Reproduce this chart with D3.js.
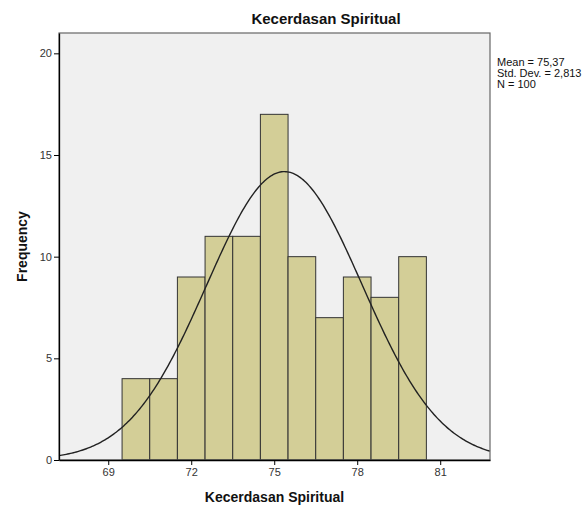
<!DOCTYPE html>
<html>
<head>
<meta charset="utf-8">
<script src="https://cdn.jsdelivr.net/npm/d3@7"></script>
<style>
  body { margin: 0; background: #fff; }
  text { font-family: Arial, "Liberation Sans", sans-serif; }
</style>
</head>
<body>
<div id="chart"></div>
<script>
// histogram bins (lower edge .. upper edge) and counts
var binStart = [69.5, 70.5, 71.5, 72.5, 73.5, 74.5, 75.5, 76.5, 77.5, 78.5, 79.5];
var binCount = [4, 4, 9, 11, 11, 17, 10, 7, 9, 8, 10];
var binWidth = 1;

var xTicks = [69, 72, 75, 78, 81];
var yTicks = [0, 5, 10, 15, 20];

var mean = 75.37;
var sd = 2.813;
var n = 100;
var statLines = ["Mean = 75,37", "Std. Dev. = 2,813", "N = 100"];

var w = 586, h = 507;
var plotLeft = 59, plotRight = 490, plotTop = 33, plotBottom = 460;

var svg = d3.select("#chart")
    .append("svg")
    .attr("width", w)
    .attr("height", h);

var x = d3.scaleLinear()
    .domain([67.22, 82.8])
    .range([plotLeft, plotRight]);

var y = d3.scaleLinear()
    .domain([0, 21])
    .range([plotBottom, plotTop]);

// plot background
svg.append("rect")
    .attr("x", plotLeft)
    .attr("y", plotTop)
    .attr("width", plotRight - plotLeft)
    .attr("height", plotBottom - plotTop)
    .style("fill", "#f0f0f0");

// bars
svg.selectAll(".bar")
    .data(binCount)
    .enter()
    .append("rect")
    .attr("class", "bar")
    .attr("x", (d, i) => x(binStart[i]))
    .attr("y", (d) => y(d))
    .attr("width", (d, i) => x(binStart[i] + binWidth) - x(binStart[i]))
    .attr("height", (d) => y(0) - y(d))
    .style("fill", "#d3ce97")
    .style("stroke", "#333")
    .style("stroke-width", 1);

// normal curve scaled to counts
var curvePts = d3.range(0, 301).map((i) => {
    var xv = x.domain()[0] + (x.domain()[1] - x.domain()[0]) * i / 300;
    var z = (xv - mean) / sd;
    return [xv, n * binWidth * Math.exp(-0.5 * z * z) / (sd * Math.sqrt(2 * Math.PI))];
});

svg.append("path")
    .datum(curvePts)
    .attr("d", d3.line().x((d) => x(d[0])).y((d) => y(d[1])))
    .style("fill", "none")
    .style("stroke", "#222")
    .style("stroke-width", 1.4);

// frame
svg.append("rect")
    .attr("x", plotLeft)
    .attr("y", plotTop)
    .attr("width", plotRight - plotLeft)
    .attr("height", plotBottom - plotTop)
    .style("fill", "none")
    .style("stroke", "#666")
    .style("stroke-width", 1.2);

// axes
var xAxis = svg.append("g")
    .attr("transform", `translate(0, ${plotBottom})`)
    .call(d3.axisBottom(x).tickValues(xTicks).tickSize(5).tickSizeOuter(0).tickPadding(3));

var yAxis = svg.append("g")
    .attr("transform", `translate(${plotLeft}, 0)`)
    .call(d3.axisLeft(y).tickValues(yTicks).tickSize(5).tickSizeOuter(0).tickPadding(2));

[xAxis, yAxis].forEach(function (g) {
    g.select(".domain").style("stroke", "#000").style("stroke-width", 1.3);
    g.selectAll(".tick line").style("stroke", "#000");
    g.selectAll(".tick text")
        .style("font-family", "Arial, 'Liberation Sans', sans-serif")
        .style("font-size", "11px")
        .style("fill", "#333");
});

// titles
svg.append("text")
    .attr("x", 326)
    .attr("y", 24)
    .attr("text-anchor", "middle")
    .attr("font-size", "15px")
    .attr("font-weight", "bold")
    .attr("fill", "#111")
    .text("Kecerdasan Spiritual");

svg.append("text")
    .attr("x", (plotLeft + plotRight) / 2)
    .attr("y", 502)
    .attr("text-anchor", "middle")
    .attr("font-size", "14px")
    .attr("font-weight", "bold")
    .attr("fill", "#111")
    .text("Kecerdasan Spiritual");

svg.append("text")
    .attr("transform", `translate(27, ${(plotTop + plotBottom) / 2}) rotate(-90)`)
    .attr("text-anchor", "middle")
    .attr("font-size", "14px")
    .attr("font-weight", "bold")
    .attr("fill", "#111")
    .text("Frequency");

// stats box text
svg.selectAll(".stat")
    .data(statLines)
    .enter()
    .append("text")
    .attr("class", "stat")
    .attr("x", 497)
    .attr("y", (d, i) => 66 + i * 11)
    .attr("font-size", "11px")
    .attr("fill", "#111")
    .text((d) => d);
</script>
</body>
</html>
